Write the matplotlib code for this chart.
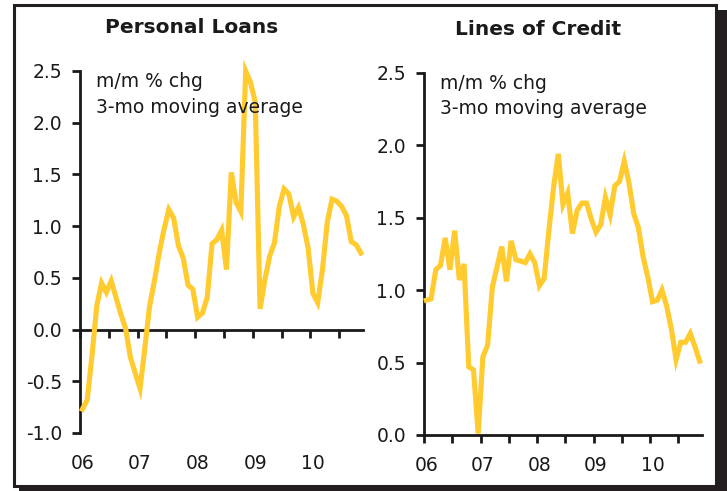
import matplotlib
matplotlib.use('Agg')
import matplotlib.pyplot as plt
import numpy as np
from matplotlib.patches import Rectangle

# monthly data, Jan 2006 - Nov 2010 (m/m % chg, 3-mo moving average)
personal_loans = [-0.77, -0.68, -0.25, 0.23, 0.45, 0.36, 0.47, 0.31, 0.15, 0.01,
                  -0.27, -0.42, -0.57, -0.18, 0.23, 0.47, 0.74, 0.97, 1.16, 1.08,
                  0.81, 0.69, 0.43, 0.39, 0.12, 0.16, 0.31, 0.83, 0.87, 0.96,
                  0.58, 1.52, 1.23, 1.14, 2.50, 2.39, 2.20, 0.20, 0.48, 0.71,
                  0.84, 1.19, 1.36, 1.31, 1.09, 1.18, 1.02, 0.79, 0.35, 0.26,
                  0.58, 1.04, 1.26, 1.24, 1.19, 1.10, 0.85, 0.82, 0.74]
lines_of_credit = [0.93, 0.94, 1.14, 1.17, 1.36, 1.14, 1.41, 1.07, 1.18, 0.47,
                   0.45, 0.01, 0.54, 0.62, 1.02, 1.16, 1.30, 1.06, 1.34, 1.21,
                   1.20, 1.19, 1.25, 1.19, 1.03, 1.08, 1.41, 1.71, 1.94, 1.59,
                   1.67, 1.39, 1.55, 1.60, 1.60, 1.49, 1.40, 1.45, 1.64, 1.52,
                   1.72, 1.75, 1.89, 1.74, 1.53, 1.43, 1.23, 1.09, 0.92, 0.93,
                   1.00, 0.89, 0.73, 0.52, 0.64, 0.64, 0.70, 0.61, 0.51]
year_labels = ['06', '07', '08', '09', '10']

W, H = 727, 491
line_color = '#ffcb2f'
ink = '#1a1a1a'

fig = plt.figure(figsize=(W / 100, H / 100), dpi=100, facecolor='white')

def fx(px):
    return px / W

def fy(py):
    return 1 - py / H

# framed box with drop shadow, kept behind the axes
fig.patches.append(Rectangle((fx(19), fy(491)), fx(727) - fx(19), fy(10) - fy(491),
                             transform=fig.transFigure, facecolor='#231f20',
                             edgecolor='none', zorder=-2))
fig.patches.append(Rectangle((fx(14), fy(486)), fx(716) - fx(14), fy(5) - fy(486),
                             transform=fig.transFigure, facecolor='white',
                             edgecolor='#231f20', linewidth=2.2, zorder=-1))

def draw_panel(rect, values, ylim, yticks, zero_axis):
    ax = fig.add_axes(rect)
    ax.set_facecolor('none')
    n = len(values)
    x = np.arange(n) + 0.5
    ax.plot(x, values, color=line_color, lw=3.7, solid_joinstyle='miter',
            clip_on=False, zorder=3)
    ax.set_xlim(0, n)
    ax.set_ylim(*ylim)
    for s in ['top', 'right']:
        ax.spines[s].set_visible(False)
    for s in ['left', 'bottom']:
        ax.spines[s].set_linewidth(2.0)
        ax.spines[s].set_color(ink)
    if zero_axis:
        ax.spines['bottom'].set_position(('data', 0))
    ax.set_yticks(yticks)
    ax.set_yticklabels(['%.1f' % t for t in yticks])
    ax.set_xticks(np.arange(0, n, 6))
    ax.set_xticklabels([])
    ax.tick_params(axis='y', direction='out', length=6, width=2.0, pad=7,
                   labelsize=13.5, colors=ink)
    ax.tick_params(axis='x', direction='out', length=5.5, width=2.0, colors=ink)
    tr = ax.get_xaxis_transform()
    for i, lab in enumerate(year_labels):
        ax.text(i * 12 + 0.5, -0.083, lab, transform=tr, ha='center', va='center',
                fontsize=13.5, color=ink)
    ax.text(0.057, 0.97, 'm/m % chg', transform=ax.transAxes, ha='left',
            va='center', fontsize=13.5, color=ink)
    ax.text(0.057, 0.90, '3-mo moving average', transform=ax.transAxes,
            ha='left', va='center', fontsize=13.5, color=ink)
    return ax

ax1 = draw_panel([fx(80), fy(433), fx(363.3) - fx(80), fy(71) - fy(433)],
                 personal_loans, (-1.0, 2.5),
                 [-1.0, -0.5, 0.0, 0.5, 1.0, 1.5, 2.0, 2.5], True)
ax1.text(0.394, 1.119, 'Personal Loans', transform=ax1.transAxes, ha='center',
         va='center', fontsize=14.5, fontweight='bold', color=ink)

ax2 = draw_panel([fx(424), fy(435), fx(702) - fx(424), fy(72.7) - fy(435)],
                 lines_of_credit, (0.0, 2.5),
                 [0.0, 0.5, 1.0, 1.5, 2.0, 2.5], False)
ax2.text(0.41, 1.119, 'Lines of Credit', transform=ax2.transAxes, ha='center',
         va='center', fontsize=14.5, fontweight='bold', color=ink)

fig.savefig('out.png', dpi=100)
